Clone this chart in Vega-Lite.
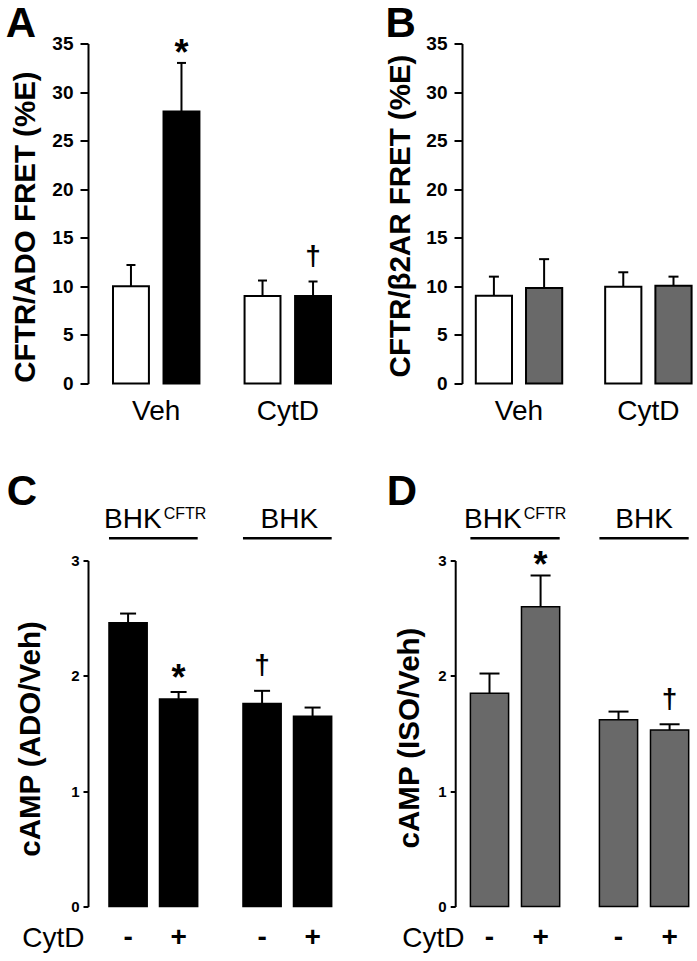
{
  "$schema": "https://vega.github.io/schema/vega-lite/v6.json",
  "background": "white",
  "padding": {"left": 5, "top": 2.5, "right": 0, "bottom": 0},
  "config": {
    "font": "Liberation Sans",
    "view": {"stroke": null},
    "axis": {"grid": false, "domainColor": "black", "tickColor": "black", "labelColor": "black", "titleColor": "black", "domainWidth": 2, "tickWidth": 2},
    "text": {"color": "black"}
  },
  "bounds": "flush",
  "align": "none",
  "columns": 2,
  "spacing": {"row": 177, "column": 106},
  "resolve": {"scale": {"x": "independent", "y": "independent", "xOffset": "independent", "fill": "independent"}},
  "concat": [
    {
      "width": 268, "height": 340,
      "title": {"text": "A", "anchor": "start", "frame": "group", "fontSize": 42, "fontWeight": "bold", "baseline": "alphabetic", "dx": -82.3, "dy": 44.3, "offset": 0, "color": "black"},
      "data": {"values": [
        {"cond": "Veh", "trt": "control", "value": 10, "err": 12.2, "sig": ""},
        {"cond": "Veh", "trt": "ADO", "value": 28, "err": 33, "sig": "*"},
        {"cond": "CytD", "trt": "control", "value": 9, "err": 10.6, "sig": ""},
        {"cond": "CytD", "trt": "ADO", "value": 9, "err": 10.5, "sig": "†"}
      ]},
      "encoding": {
        "x": {"field": "cond", "type": "nominal", "sort": ["Veh", "CytD"], "scale": {"paddingInner": 0.343, "paddingOuter": 0.19}, "axis": {"title": null, "labelAngle": 0, "ticks": false, "tickSize": 0, "domain": false, "labelFontSize": 28, "labelPadding": 35.6, "labelBaseline": "alphabetic"}},
        "xOffset": {"field": "trt", "type": "nominal", "sort": ["control", "ADO"], "scale": {"paddingInner": 0.289, "paddingOuter": 0}},
        "y": {"field": "value", "type": "quantitative", "scale": {"domain": [0, 35], "nice": false}, "axis": {"title": "CFTR/ADO FRET (%E)", "values": [0, 5, 10, 15, 20, 25, 30, 35], "labelFontSize": 19, "labelFontWeight": "bold", "tickSize": 8, "labelPadding": 7, "titleFontSize": 29.5, "titleFontWeight": "bold", "titleX": -54, "titleY": 183, "titleAlign": "center", "titleBaseline": "alphabetic", "titleAngle": -90}}
      },
      "layer": [
        {"mark": {"type": "rule", "color": "black", "strokeWidth": 2}, "encoding": {"y2": {"field": "err"}}},
        {"mark": {"type": "tick", "orient": "horizontal", "size": 9, "thickness": 2, "color": "black", "opacity": 1}, "encoding": {"y": {"field": "err", "type": "quantitative", "scale": {"domain": [0, 35], "nice": false}}}},
        {"mark": {"type": "bar", "stroke": "black", "strokeWidth": 2}, "encoding": {"fill": {"field": "trt", "type": "nominal", "scale": {"domain": ["control", "ADO"], "range": ["white", "black"]}, "legend": null}}},
        {"transform": [{"filter": "datum.sig === '*'"}], "mark": {"type": "text", "fontSize": 36, "fontWeight": "bold", "baseline": "alphabetic", "dy": 2, "color": "black"}, "encoding": {"y": {"field": "err", "type": "quantitative", "scale": {"domain": [0, 35], "nice": false}}, "text": {"field": "sig"}}},
        {"transform": [{"filter": "datum.sig === '†'"}], "mark": {"type": "text", "fontSize": 28, "fontWeight": "bold", "baseline": "alphabetic", "dy": -16.5, "color": "black"}, "encoding": {"y": {"field": "err", "type": "quantitative", "scale": {"domain": [0, 35], "nice": false}}, "text": {"field": "sig"}}}
      ]
    },
    {
      "width": 233.6, "height": 340,
      "title": {"text": "B", "anchor": "start", "frame": "group", "fontSize": 42, "fontWeight": "bold", "baseline": "alphabetic", "dx": -76.5, "dy": 44.3, "offset": 0, "color": "black"},
      "data": {"values": [
        {"cond": "Veh", "trt": "control", "value": 9.03, "err": 11.0},
        {"cond": "Veh", "trt": "ISO", "value": 9.83, "err": 12.8},
        {"cond": "CytD", "trt": "control", "value": 9.97, "err": 11.45},
        {"cond": "CytD", "trt": "ISO", "value": 10.05, "err": 11.0}
      ]},
      "encoding": {
        "x": {"field": "cond", "type": "nominal", "sort": ["Veh", "CytD"], "scale": {"paddingInner": 0.332, "paddingOuter": 0.0688, "align": 0.775}, "axis": {"title": null, "labelAngle": 0, "ticks": false, "tickSize": 0, "domain": false, "labelFontSize": 28, "labelPadding": 35.6, "labelBaseline": "alphabetic"}},
        "xOffset": {"field": "trt", "type": "nominal", "sort": ["control", "ISO"], "scale": {"paddingInner": 0.279, "paddingOuter": 0}},
        "y": {"field": "value", "type": "quantitative", "scale": {"domain": [0, 35], "nice": false}, "axis": {"title": "CFTR/β2AR FRET (%E)", "values": [0, 5, 10, 15, 20, 25, 30, 35], "labelFontSize": 19, "labelFontWeight": "bold", "tickSize": 8, "labelPadding": 7, "titleFontSize": 29.5, "titleFontWeight": "bold", "titleX": -52.5, "titleY": 172, "titleAlign": "center", "titleBaseline": "alphabetic", "titleAngle": -90}}
      },
      "layer": [
        {"mark": {"type": "rule", "color": "black", "strokeWidth": 2}, "encoding": {"y2": {"field": "err"}}},
        {"mark": {"type": "tick", "orient": "horizontal", "size": 10, "thickness": 2, "color": "black", "opacity": 1}, "encoding": {"y": {"field": "err", "type": "quantitative", "scale": {"domain": [0, 35], "nice": false}}}},
        {"mark": {"type": "bar", "stroke": "black", "strokeWidth": 2}, "encoding": {"fill": {"field": "trt", "type": "nominal", "scale": {"domain": ["control", "ISO"], "range": ["white", "#696969"]}, "legend": null}}}
      ]
    },
    {
      "width": 261.2, "height": 346,
      "title": {"text": "C", "anchor": "start", "frame": "group", "fontSize": 42, "fontWeight": "bold", "baseline": "alphabetic", "dx": -81.3, "dy": 41, "offset": 0, "color": "black"},
      "data": {"values": [
        {"cell": "BHKCFTR", "cytd": "-", "value": 2.46, "err": 2.54, "sig": ""},
        {"cell": "BHKCFTR", "cytd": "+", "value": 1.8, "err": 1.86, "sig": "*"},
        {"cell": "BHK", "cytd": "-", "value": 1.76, "err": 1.87, "sig": "†"},
        {"cell": "BHK", "cytd": "+", "value": 1.65, "err": 1.725, "sig": ""}
      ]},
      "encoding": {
        "x": {"field": "cell", "type": "nominal", "sort": ["BHKCFTR", "BHK"], "scale": {"domain": ["BHKCFTR", "BHK"], "paddingInner": 0.338, "paddingOuter": 0.1437, "align": 0.545}, "axis": {"title": "CytD", "labels": false, "ticks": false, "tickSize": 0, "domain": false, "titleFontSize": 28, "titleFontWeight": "normal", "titleAngle": 0, "titleAlign": "left", "titleBaseline": "alphabetic", "titleX": -66.3, "titleY": 39.5}},
        "y": {"field": "value", "type": "quantitative", "scale": {"domain": [0, 3], "nice": false}, "axis": {"title": "cAMP (ADO/Veh)", "values": [0, 1, 2, 3], "labelFontSize": 15, "labelFontWeight": "bold", "tickSize": 5, "labelPadding": 4, "titleFontSize": 29.5, "titleFontWeight": "bold", "titleX": -49, "titleY": 178, "titleAlign": "center", "titleBaseline": "alphabetic", "titleAngle": -90}}
      },
      "layer": [
        {"mark": {"type": "rule", "color": "black", "strokeWidth": 2}, "encoding": {"xOffset": {"field": "cytd", "type": "nominal", "sort": ["-", "+"], "scale": {"paddingInner": 0.244, "paddingOuter": 0}}, "y2": {"field": "err"}}},
        {"mark": {"type": "tick", "orient": "horizontal", "size": 16, "thickness": 2, "color": "black", "opacity": 1}, "encoding": {"xOffset": {"field": "cytd", "type": "nominal", "sort": ["-", "+"]}, "y": {"field": "err", "type": "quantitative", "scale": {"domain": [0, 3], "nice": false}}}},
        {"mark": {"type": "bar", "fill": "black", "stroke": "black", "strokeWidth": 1.5}, "encoding": {"xOffset": {"field": "cytd", "type": "nominal", "sort": ["-", "+"]}}},
        {"transform": [{"filter": "datum.sig === '*'"}], "mark": {"type": "text", "fontSize": 36, "fontWeight": "bold", "baseline": "alphabetic", "dy": -1.5, "color": "black"}, "encoding": {"xOffset": {"field": "cytd", "type": "nominal", "sort": ["-", "+"]}, "y": {"field": "err", "type": "quantitative", "scale": {"domain": [0, 3], "nice": false}}, "text": {"field": "sig"}}},
        {"transform": [{"filter": "datum.sig === '†'"}], "mark": {"type": "text", "fontSize": 28, "fontWeight": "bold", "baseline": "alphabetic", "dy": -16.5, "color": "black"}, "encoding": {"xOffset": {"field": "cytd", "type": "nominal", "sort": ["-", "+"]}, "y": {"field": "err", "type": "quantitative", "scale": {"domain": [0, 3], "nice": false}}, "text": {"field": "sig"}}},
        {"mark": {"type": "text", "fontSize": 28, "fontWeight": "bold", "baseline": "alphabetic", "color": "black"}, "encoding": {"xOffset": {"field": "cytd", "type": "nominal", "sort": ["-", "+"]}, "y": {"datum": -0.342, "type": "quantitative"}, "text": {"field": "cytd"}}},
        {"transform": [{"filter": "datum.cell === 'BHKCFTR' && datum.cytd === '-'"}], "mark": {"type": "text", "fontSize": 28, "align": "right", "dx": 8.3, "baseline": "alphabetic", "color": "black"}, "encoding": {"y": {"datum": 3.28, "type": "quantitative"}, "text": {"value": "BHK"}}},
        {"transform": [{"filter": "datum.cell === 'BHKCFTR' && datum.cytd === '-'"}], "mark": {"type": "text", "fontSize": 16, "align": "left", "dx": 10.3, "dy": -9, "baseline": "alphabetic", "color": "black"}, "encoding": {"y": {"datum": 3.28, "type": "quantitative"}, "text": {"value": "CFTR"}}},
        {"transform": [{"filter": "datum.cell === 'BHK' && datum.cytd === '-'"}], "mark": {"type": "text", "fontSize": 28, "align": "center", "dx": 2, "baseline": "alphabetic", "color": "black"}, "encoding": {"y": {"datum": 3.28, "type": "quantitative"}, "text": {"value": "BHK"}}},
        {"transform": [{"filter": "datum.cytd === '-'"}], "mark": {"type": "bar", "fill": "black"}, "encoding": {"y": {"datum": 3.182, "type": "quantitative"}, "y2": {"datum": 3.204}}}
      ]
    },
    {
      "width": 231.4, "height": 346,
      "title": {"text": "D", "anchor": "start", "frame": "group", "fontSize": 42, "fontWeight": "bold", "baseline": "alphabetic", "dx": -75.3, "dy": 41, "offset": 0, "color": "black"},
      "data": {"values": [
        {"cell": "BHKCFTR", "cytd": "-", "value": 1.85, "err": 2.02, "sig": ""},
        {"cell": "BHKCFTR", "cytd": "+", "value": 2.6, "err": 2.87, "sig": "*"},
        {"cell": "BHK", "cytd": "-", "value": 1.62, "err": 1.69, "sig": ""},
        {"cell": "BHK", "cytd": "+", "value": 1.53, "err": 1.58, "sig": "†"}
      ]},
      "encoding": {
        "x": {"field": "cell", "type": "nominal", "sort": ["BHKCFTR", "BHK"], "scale": {"domain": ["BHKCFTR", "BHK"], "paddingInner": 0.308, "paddingOuter": 0.0508, "align": 0.641}, "axis": {"title": "CytD", "labels": false, "ticks": false, "tickSize": 0, "domain": false, "titleFontSize": 28, "titleFontWeight": "normal", "titleAngle": 0, "titleAlign": "left", "titleBaseline": "alphabetic", "titleX": -60.3, "titleY": 39.5}},
        "y": {"field": "value", "type": "quantitative", "scale": {"domain": [0, 3], "nice": false}, "axis": {"title": "cAMP (ISO/Veh)", "offset": 6.8, "values": [0, 1, 2, 3], "labelFontSize": 15, "labelFontWeight": "bold", "tickSize": 5, "labelPadding": 4, "titleFontSize": 29.5, "titleFontWeight": "bold", "titleX": -37, "titleY": 177, "titleAlign": "center", "titleBaseline": "alphabetic", "titleAngle": -90}}
      },
      "layer": [
        {"mark": {"type": "rule", "color": "black", "strokeWidth": 2}, "encoding": {"xOffset": {"field": "cytd", "type": "nominal", "sort": ["-", "+"], "scale": {"paddingInner": 0.252, "paddingOuter": 0}}, "y2": {"field": "err"}}},
        {"mark": {"type": "tick", "orient": "horizontal", "size": 20, "thickness": 2, "color": "black", "opacity": 1}, "encoding": {"xOffset": {"field": "cytd", "type": "nominal", "sort": ["-", "+"]}, "y": {"field": "err", "type": "quantitative", "scale": {"domain": [0, 3], "nice": false}}}},
        {"mark": {"type": "bar", "fill": "#696969", "stroke": "black", "strokeWidth": 1.5}, "encoding": {"xOffset": {"field": "cytd", "type": "nominal", "sort": ["-", "+"]}}},
        {"transform": [{"filter": "datum.sig === '*'"}], "mark": {"type": "text", "fontSize": 36, "fontWeight": "bold", "baseline": "alphabetic", "dy": 1.8, "color": "black"}, "encoding": {"xOffset": {"field": "cytd", "type": "nominal", "sort": ["-", "+"]}, "y": {"field": "err", "type": "quantitative", "scale": {"domain": [0, 3], "nice": false}}, "text": {"field": "sig"}}},
        {"transform": [{"filter": "datum.sig === '†'"}], "mark": {"type": "text", "fontSize": 28, "fontWeight": "bold", "baseline": "alphabetic", "dy": -16.5, "color": "black"}, "encoding": {"xOffset": {"field": "cytd", "type": "nominal", "sort": ["-", "+"]}, "y": {"field": "err", "type": "quantitative", "scale": {"domain": [0, 3], "nice": false}}, "text": {"field": "sig"}}},
        {"mark": {"type": "text", "fontSize": 28, "fontWeight": "bold", "baseline": "alphabetic", "color": "black"}, "encoding": {"xOffset": {"field": "cytd", "type": "nominal", "sort": ["-", "+"]}, "y": {"datum": -0.342, "type": "quantitative"}, "text": {"field": "cytd"}}},
        {"transform": [{"filter": "datum.cell === 'BHKCFTR' && datum.cytd === '-'"}], "mark": {"type": "text", "fontSize": 28, "align": "right", "dx": 6.6, "baseline": "alphabetic", "color": "black"}, "encoding": {"y": {"datum": 3.28, "type": "quantitative"}, "text": {"value": "BHK"}}},
        {"transform": [{"filter": "datum.cell === 'BHKCFTR' && datum.cytd === '-'"}], "mark": {"type": "text", "fontSize": 16, "align": "left", "dx": 8.6, "dy": -9, "baseline": "alphabetic", "color": "black"}, "encoding": {"y": {"datum": 3.28, "type": "quantitative"}, "text": {"value": "CFTR"}}},
        {"transform": [{"filter": "datum.cell === 'BHK' && datum.cytd === '-'"}], "mark": {"type": "text", "fontSize": 28, "align": "center", "dx": 0, "baseline": "alphabetic", "color": "black"}, "encoding": {"y": {"datum": 3.28, "type": "quantitative"}, "text": {"value": "BHK"}}},
        {"transform": [{"filter": "datum.cytd === '-'"}], "mark": {"type": "bar", "fill": "black"}, "encoding": {"y": {"datum": 3.182, "type": "quantitative"}, "y2": {"datum": 3.204}}}
      ]
    }
  ]
}
